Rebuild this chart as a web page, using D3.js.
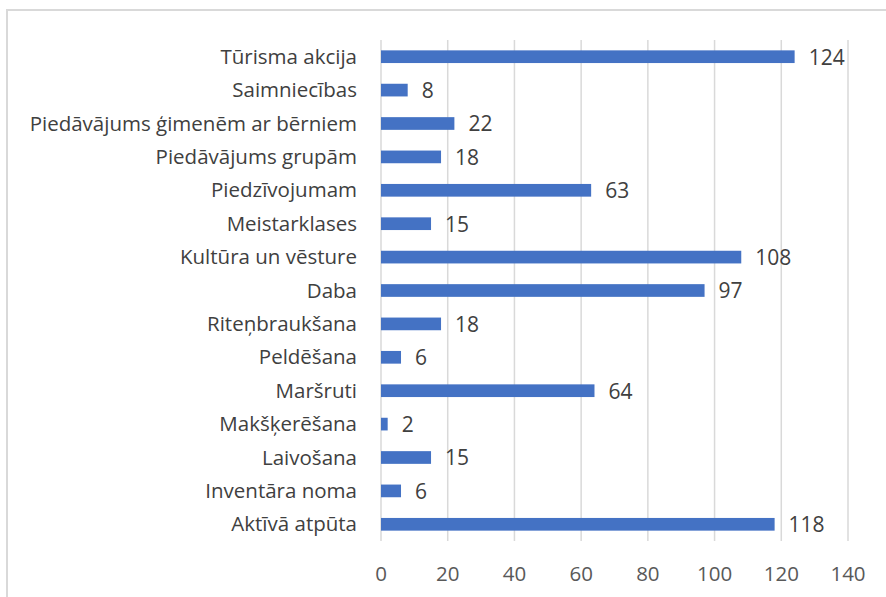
<!DOCTYPE html>
<html>
<head>
<meta charset="utf-8">
<script src="https://cdn.jsdelivr.net/npm/d3@7"></script>
<style>
  html, body { margin: 0; padding: 0; background: #fff; }
  svg text { font-family: "Open Sans", Lato, sans-serif; }
</style>
</head>
<body>
<div id="chart"></div>
<script>
const categories = [
  'Tūrisma akcija',
  'Saimniecības',
  'Piedāvājums ģimenēm ar bērniem',
  'Piedāvājums grupām',
  'Piedzīvojumam',
  'Meistarklases',
  'Kultūra un vēsture',
  'Daba',
  'Riteņbraukšana',
  'Peldēšana',
  'Maršruti',
  'Makšķerēšana',
  'Laivošana',
  'Inventāra noma',
  'Aktīvā atpūta'
];
const values = [124, 8, 22, 18, 63, 15, 108, 97, 18, 6, 64, 2, 15, 6, 118];
const xTicks = [0, 20, 40, 60, 80, 100, 120, 140];

const width = 886, height = 597;
const plot = { left: 381, right: 848, top: 40, bottom: 541 };

const svg = d3.select('#chart').append('svg')
  .attr('width', width)
  .attr('height', height);

// chart frame
svg.append('rect')
  .attr('x', 7)
  .attr('y', 10)
  .attr('width', 900)
  .attr('height', 620)
  .attr('fill', 'none')
  .attr('stroke', '#d9d9d9')
  .attr('stroke-width', 2);

const x = d3.scaleLinear().domain([0, 140]).range([plot.left, plot.right]);
const y = d3.scaleBand().domain(categories).range([plot.top, plot.bottom]).paddingInner(0.62).paddingOuter(0.31);

// gridlines
svg.append('g')
  .selectAll('line')
  .data(xTicks)
  .join('line')
  .attr('x1', d => x(d))
  .attr('x2', d => x(d))
  .attr('y1', plot.top)
  .attr('y2', plot.bottom)
  .attr('stroke', '#d9d9d9')
  .attr('stroke-width', 1.5);

// x tick labels
svg.append('g')
  .selectAll('text')
  .data(xTicks)
  .join('text')
  .attr('x', d => x(d))
  .attr('y', 581)
  .attr('text-anchor', 'middle')
  .attr('font-size', 20.5)
  .attr('fill', '#595959')
  .text(d => d);

// bars
svg.append('g')
  .selectAll('rect')
  .data(values)
  .join('rect')
  .attr('x', x(0))
  .attr('y', (d, i) => y(categories[i]))
  .attr('width', d => x(d) - x(0))
  .attr('height', y.bandwidth())
  .attr('fill', '#4472c4');

// category labels
svg.append('g')
  .selectAll('text')
  .data(categories)
  .join('text')
  .attr('x', 357)
  .attr('y', d => y(d) + y.bandwidth() / 2)
  .attr('dy', '0.35em')
  .attr('text-anchor', 'end')
  .attr('font-size', 20.5)
  .attr('fill', '#404040')
  .text(d => d);

// value labels
svg.append('g')
  .selectAll('text')
  .data(values)
  .join('text')
  .attr('x', d => x(d) + 14)
  .attr('y', (d, i) => y(categories[i]) + y.bandwidth() / 2)
  .attr('dy', '0.38em')
  .attr('font-size', 21)
  .attr('fill', '#404040')
  .text(d => d);
</script>
</body>
</html>
